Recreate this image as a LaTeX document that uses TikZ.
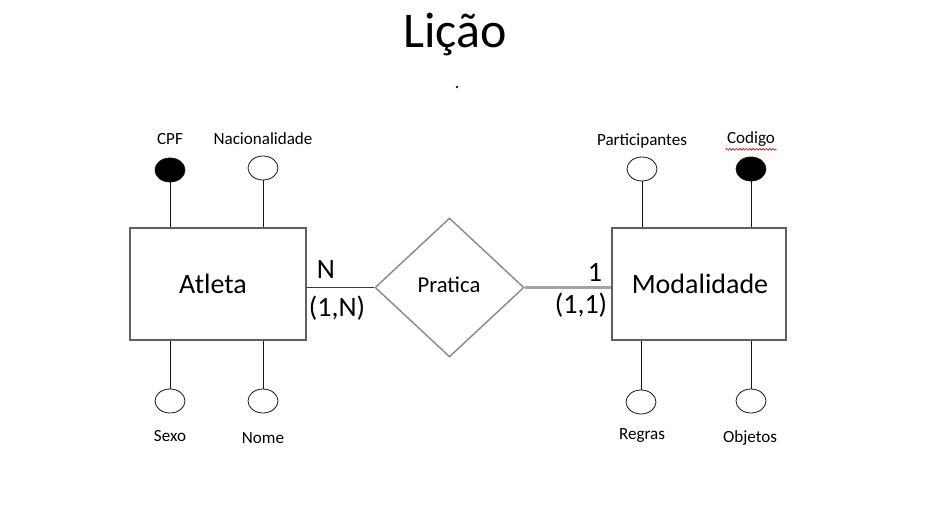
\documentclass[tikz,border=0pt]{standalone}
\usepackage{fontspec}
\setmainfont{Carlito}
\usepackage{xcolor}
\usepackage{tikz}
\usetikzlibrary{shapes.geometric,decorations.pathmorphing}
\definecolor{figline}{RGB}{20,20,20}
\definecolor{figbox}{RGB}{95,95,95}
\definecolor{figrel}{RGB}{140,140,140}
\tikzset{
  ent/.style  ={draw=figbox, line width=1.6pt, fill=white, minimum height=84pt, inner sep=0pt, font=\fontsize{21}{24}\selectfont},
  rel/.style  ={diamond, draw=figrel, line width=1.1pt, minimum width=111.75pt, minimum height=104.25pt, inner sep=0pt, font=\fontsize{17}{20}\selectfont},
  att/.style  ={ellipse, draw=figline, line width=0.6pt, fill=white, minimum width=22.5pt, minimum height=18pt, inner sep=0pt},
  key/.style  ={att, fill=black},
  lab/.style  ={font=\fontsize{12.8}{14}\selectfont, inner sep=1pt},
  card/.style ={font=\fontsize{21}{24}\selectfont, inner sep=1pt},
  stem/.style ={draw=figline, line width=0.6pt},
}

\begin{document}
\begin{tikzpicture}[x=0.75pt,y=-0.75pt]
  \useasboundingbox (0,0) rectangle (938,517);
  \node[font=\fontsize{37.5}{40}\selectfont] (titulo) at (455,35) {Lição};
  \fill[figline] (457,87) circle (1.3);

  \node[ent, minimum width=132pt] (atleta) at (218,284) {};
  \node[ent, minimum width=130.5pt] (modal) at (699,284) {};
  \node[font=\fontsize{21}{24}\selectfont] (tatleta) at (213,284) {Atleta};
  \node[font=\fontsize{21}{24}\selectfont] (tmodal) at (700,284) {Modalidade};
  \node[rel] (pratica) at (449.5,287.5) {};
  \node[font=\fontsize{17}{20}\selectfont] (tpratica) at (449,285) {Pratica};

  \draw[draw=figline!85, line width=1.1pt] (pratica.west -| atleta.east) -- (pratica.west);
  \draw[draw=figrel!80, line width=2pt] (pratica.east) -- (pratica.east -| modal.west);
  \node[card] (cn) at (326,270) {N};
  \node[card] (cmin) at (337,308) {(1,N)};
  \node[card] (c1) at (595,272) {1};
  \node[card] (cmax) at (581,305) {(1,1)};

  \node[key] (cpf) at (170,170) {};
  \node[att] (nac) at (263,168) {};
  \node[att] (sexo) at (170,401) {};
  \node[att] (nome) at (263,401) {};
  \node[att] (part) at (642,169) {};
  \node[key] (cod) at (751,169) {};
  \node[att] (regras) at (641,402) {};
  \node[att] (obj) at (751,401) {};

  \draw[stem] (cpf.south) -- (cpf.south |- atleta.north);
  \draw[stem] (nac.south) -- (nac.south |- atleta.north);
  \draw[stem] (sexo.north) -- (sexo.north |- atleta.south);
  \draw[stem] (nome.north) -- (nome.north |- atleta.south);
  \draw[stem] (part.south) -- (part.south |- modal.north);
  \draw[stem] (cod.south) -- (cod.south |- modal.north);
  \draw[stem] (regras.north) -- (regras.north |- modal.south);
  \draw[stem] (obj.north) -- (obj.north |- modal.south);

  \node[lab] (lcpf) at (170,139) {CPF};
  \node[lab] (lnac) at (263,139) {Nacionalidade};
  \node[lab] (lsexo) at (170,436) {Sexo};
  \node[lab] (lnome) at (263,438) {Nome};
  \node[lab] (lpart) at (642,141) {Participantes};
  \node[lab] (lcod) at (751,139) {Codigo};
  \node[lab] (lregras) at (642,435) {Regras};
  \node[lab] (lobj) at (750,438) {Objetos};
  \draw[red!85!black, line width=0.5pt, decorate, decoration={snake, amplitude=0.6pt, segment length=2.5pt}]
    ([yshift=-1pt]lcod.south west) -- ([yshift=-1pt]lcod.south east);
\end{tikzpicture}
\end{document}
